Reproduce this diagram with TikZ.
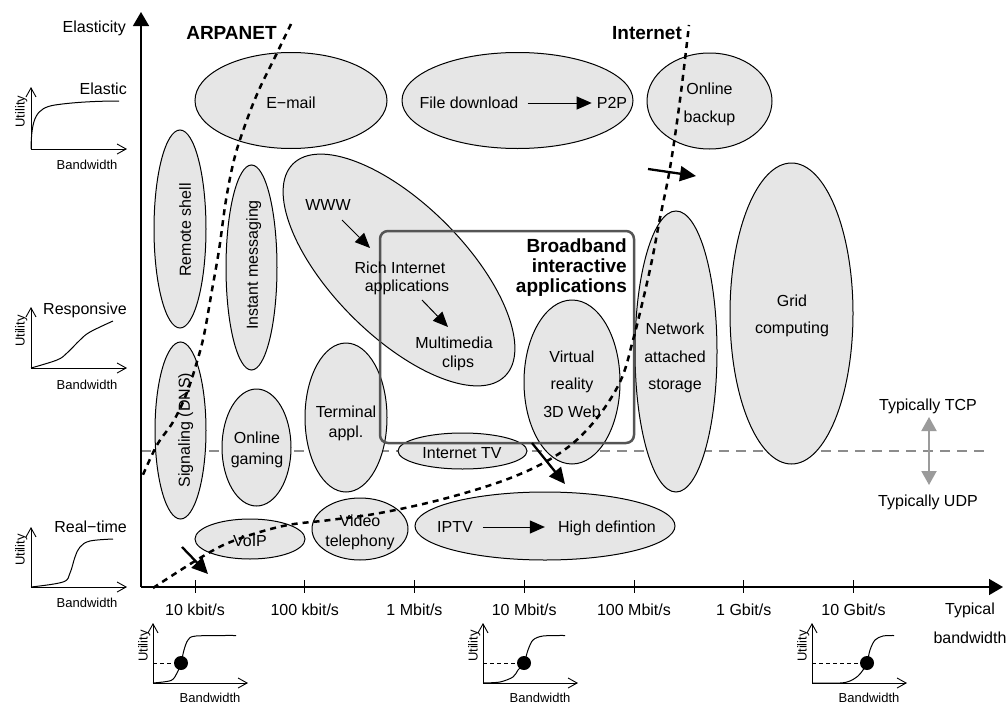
\documentclass[tikz,border=0pt]{standalone}
\usepackage{fontspec}
\setmainfont{Liberation Sans}
\usetikzlibrary{shapes.geometric,arrows.meta,calc}
\definecolor{ellfill}{RGB}{230,230,230}
\definecolor{boxgray}{RGB}{85,85,85}
\definecolor{tcpgray}{RGB}{140,140,140}
\definecolor{arrgray}{RGB}{155,155,155}

\begin{document}
\begin{tikzpicture}[x=1pt,y=-1pt,
  app/.style={ellipse, draw=black, line width=1pt, fill=ellfill, inner sep=0pt},
  txt/.style={font=\fontsize{16}{19}\selectfont, inner sep=0pt, text height=11.5pt, text depth=0pt},
  sml/.style={font=\fontsize{13}{15}\selectfont, inner sep=0pt, text height=9.3pt, text depth=0pt},
  bld/.style={font=\fontsize{19}{22}\selectfont\bfseries, inner sep=0pt, text height=13.6pt, text depth=0pt},
  axisline/.style={line width=1.5pt, -{Triangle[length=14pt,width=16pt]}},
  miniaxis/.style={line width=0.9pt, -{Straight Barb[length=9pt,width=10pt]}},
  curve/.style={line width=1pt},
  evol/.style={line width=2.5pt, dash pattern=on 6pt off 5pt},
  thin arrow/.style={line width=1pt, -{Triangle[length=15pt,width=13pt]}},
  shift arrow/.style={line width=2.3pt, -{Triangle[length=16pt,width=15pt]}},
]
\useasboundingbox (0,0) rectangle (1007,704);

% TCP / UDP separation line (below the application ellipses)
\draw[tcpgray, line width=2.3pt, dash pattern=on 10pt off 7pt] (141,451) -- (988,451);

% application ellipses
\node[app, minimum width=192, minimum height=96] (email) at (291,100.5) {};
\node[app, minimum width=231, minimum height=96] (fdl) at (517.5,100.5) {};
\node[app, minimum width=125, minimum height=96] (obk) at (709.5,101) {};
\node[app, minimum width=52, minimum height=198] (rsh) at (180,229) {};
\node[app, minimum width=51, minimum height=205] (ims) at (251.5,267.5) {};
\node[app, minimum width=300, minimum height=132, rotate=-45] (www) at (399,270) {};
\node[app, minimum width=51, minimum height=177] (sig) at (180.5,430.5) {};
\node[app, minimum width=69, minimum height=117] (gam) at (256.5,447.5) {};
\node[app, minimum width=110, minimum height=40] (voip) at (250,539) {};
\node[app, minimum width=82, minimum height=149] (term) at (346,417.5) {};
\node[app, minimum width=96, minimum height=62] (vtel) at (360,529) {};
\node[app, minimum width=129, minimum height=36] (itv) at (462.5,451) {};
\node[app, minimum width=260, minimum height=68] (iptv) at (545,526) {};
\node[app, minimum width=96, minimum height=164] (vr) at (572,382) {};
\node[app, minimum width=82, minimum height=281] (nas) at (676,351.5) {};
\node[app, minimum width=123, minimum height=301] (grid) at (791.5,313.5) {};

% broadband interactive applications frame
\node[draw=boxgray, line width=2.5pt, rounded corners=8pt, minimum width=254, minimum height=212, inner sep=0pt] (bb) at (507,337) {};

% texts of the applications
\node[txt] (temail) at (291,103) {E−mail};
\node[txt] (tfd) at (469,103) {File download};
\node[txt] (tp2p) at (612,103) {P2P};
\node[txt] (tob1) at (709.5,89) {Online};
\node[txt] (tob2) at (709.5,117) {backup};
\node[txt, rotate=90] (trsh) at (185,230) {Remote shell};
\node[txt, rotate=90] (tims) at (252,265) {Instant messaging};
\node[txt, rotate=90] (tsig) at (184,430) {Signaling (DNS)};
\node[txt] (tgam1) at (257,438) {Online};
\node[txt] (tgam2) at (257,459) {gaming};
\node[txt] (twww) at (328,205) {WWW};
\node[txt] (trich1) at (400,268) {Rich Internet};
\node[txt] (trich2) at (407,286) {applications};
\node[txt] (tmm1) at (454,343) {Multimedia};
\node[txt] (tmm2) at (458,362) {clips};
\node[bld, anchor=east] (tbb1) at (627,246) {Broadband};
\node[bld, anchor=east] (tbb2) at (627,266) {interactive};
\node[bld, anchor=east] (tbb3) at (627,286) {applications};
\node[txt] (tterm1) at (346,412) {Terminal};
\node[txt] (tterm2) at (346,432) {appl.};
\node[txt] (titv) at (462,453) {Internet TV};
\node[txt] (tvt1) at (360,521) {Video};
\node[txt] (tvt2) at (360,541) {telephony};
\node[txt] (tvoip) at (250,541) {VoIP};
\node[txt] (tiptv) at (455,527) {IPTV};
\node[txt] (thd) at (607,527) {High defintion};
\node[txt] (tvr1) at (572,357) {Virtual};
\node[txt] (tvr2) at (572,384) {reality};
\node[txt] (tvr3) at (572,412) {3D Web};
\node[txt] (tnas1) at (675,329) {Network};
\node[txt] (tnas2) at (675,357) {attached};
\node[txt] (tnas3) at (675,384) {storage};
\node[txt] (tgrid1) at (792,300.5) {Grid};
\node[txt] (tgrid2) at (792,328) {computing};

% evolution arrows inside the ellipses
\draw[thin arrow, shorten <=9pt, shorten >=5pt] (tfd) -- (tp2p);
\draw[thin arrow, shorten <=10pt, shorten >=13pt] (tiptv) -- (thd);
\draw[thin arrow] ([xshift=14pt,yshift=-15pt]twww.center) -- ([xshift=-30pt,yshift=20pt]trich1.center);
\draw[thin arrow] ([xshift=15pt,yshift=-14pt]trich2.center) -- ([xshift=-6pt,yshift=16pt]tmm1.center);

% network eras
\node[bld] (arpa) at (231.5,32.5) {ARPANET};
\node[bld] (inet) at (647,33) {Internet};
\draw[evol] plot[smooth, tension=0.6] coordinates {(291,24) (276,55) (258,92) (244,128) (234,160) (226,200) (219,250) (212,290) (204,335) (196,365) (186,395) (173,422) (157,445) (142,477)};
\draw[evol] plot[smooth, tension=0.6] coordinates {(153,588) (200,558) (233,541) (283,526) (330,520) (380,513) (447,498) (513,477) (560,453) (593,423) (620,382) (633,340) (643,300) (652,260) (660,218) (670,168) (680,100) (689,25)};

% shift of the applications
\coordinate (sa1) at (182,547);
\coordinate (sa2) at (208,574);
\coordinate (sb1) at (532,443);
\coordinate (sb2) at (565,484);
\coordinate (sc1) at (648,169);
\coordinate (sc2) at (696,176);
\draw[shift arrow] (sa1) -- (sa2);
\draw[shift arrow] (sb1) -- (sb2);
\draw[shift arrow] (sc1) -- (sc2);

% TCP / UDP labels
\node[txt] (ttcp) at (928,404.5) {Typically TCP};
\node[txt] (tudp) at (928,500.5) {Typically UDP};
\draw[arrgray, line width=2pt, {Triangle[length=14pt,width=15pt]}-{Triangle[length=14pt,width=15pt]}] (929,417) -- (929,485);

% main axes
\coordinate (origin) at (141,587);
\coordinate (ytip) at (141,12);
\coordinate (xtip) at (1003,587);
\draw[axisline] (origin) -- (ytip);
\draw[axisline] (origin) -- (xtip);
\node[txt, anchor=east] (yl) at (126,26.5) {Elasticity};
\node[txt] (xl1) at (970,609) {Typical};
\node[txt] (xl2) at (970,638) {bandwidth};
\foreach \lab [count=\i from 0] in {10 kbit/s,100 kbit/s,1 Mbit/s,10 Mbit/s,100 Mbit/s,1 Gbit/s,10 Gbit/s}{
  \draw[line width=1pt] ({195+109.75*\i},580) -- ({195+109.75*\i},593);
  \node[txt] (tick\i) at ({195+109.75*\i},609.5) {\lab};
}

% utility curves on the left
\draw[miniaxis] (31,149) -- (31,87);
\draw[miniaxis] (31,149) -- (127,149);
\draw[curve] (31,149) .. controls (31.5,118) and (36,108) .. (55,105) .. controls (75,102) and (100,101) .. (119,101);
\node[txt, anchor=east] (lel) at (127,89) {Elastic};
\node[sml, rotate=90] (ul1) at (20,111.5) {Utility};
\node[sml] (bl1) at (87,165) {Bandwidth};

\draw[miniaxis] (31,368) -- (31,307);
\draw[miniaxis] (31,368) -- (127,368);
\draw[curve] plot[smooth, tension=0.6] coordinates {(31,368) (57,360) (67,353) (80,340) (90,332) (113,321)};
\node[txt, anchor=east] (lre) at (127,309) {Responsive};
\node[sml, rotate=90] (ul2) at (20,331) {Utility};
\node[sml] (bl2) at (87,385) {Bandwidth};

\draw[miniaxis] (31,587) -- (31,527);
\draw[miniaxis] (31,587) -- (127,587);
\draw[curve] plot[smooth, tension=0.6] coordinates {(31,587) (63,582) (70,573) (75,557) (80,547) (90,541) (113,539)};
\node[txt, anchor=east] (lrt) at (127,527) {Real−time};
\node[sml, rotate=90] (ul3) at (20,550) {Utility};
\node[sml] (bl3) at (87,603) {Bandwidth};

% operating points below the bandwidth axis
\foreach \ox/\pts/\dx [count=\k] in {
  153/{(153,683) (171,680.5) (177,673) (181,663) (184,650) (188,640) (196,636) (236,635.5)}/28,
  483/{(483,683) (500,682) (513,677) (518,670) (524,663) (528,650) (533,640) (543,636) (565,635.5)}/41,
  812/{(812,683) (840,683) (850,681) (858,676) (863,670) (867,663) (870,650) (875,640) (883,636) (894,635.5)}/55}{
  \draw[miniaxis] (\ox,683) -- (\ox,623);
  \draw[miniaxis] (\ox,683) -- (\ox+95,683);
  \draw[curve] plot[smooth, tension=0.5] coordinates {\pts};
  \draw[line width=0.8pt, dash pattern=on 4pt off 3pt] (\ox,663) -- (\ox+\dx,663);
  \fill (\ox+\dx,663) circle[radius=7pt];
  \node[sml, rotate=90] (bu\k) at (\ox-10,646) {Utility};
  \node[sml] (bb\k) at (\ox+57,697.5) {Bandwidth};
}
\end{tikzpicture}
\end{document}
